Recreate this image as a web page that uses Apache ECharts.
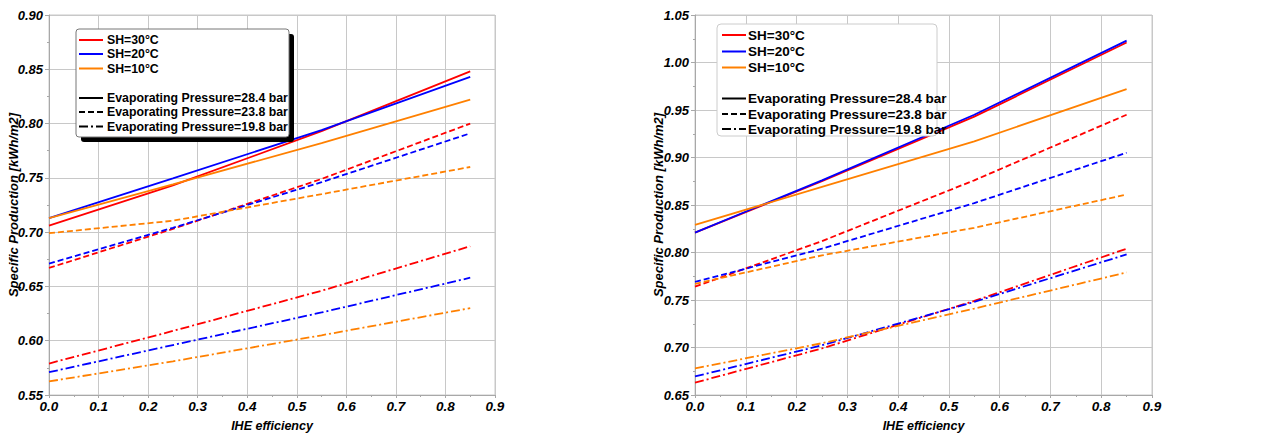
<!DOCTYPE html>
<html>
<head>
<meta charset="utf-8">
<script src="https://cdn.jsdelivr.net/npm/echarts@6/dist/echarts.min.js"></script>
<style>
  html, body { margin: 0; padding: 0; background: #ffffff; }
  #chart { width: 1264px; height: 437px; }
</style>
</head>
<body>
<div id="chart"></div>
<script>
// IHE efficiency sample points (shared by both panels)
const IHE_X = [0, 0.25, 0.55, 0.85];

// Left panel: specific production [kWh/m2]
const A_SH30_P284 = [0.706, 0.743, 0.793, 0.848];
const A_SH20_P284 = [0.713, 0.7495, 0.794, 0.843];
const A_SH10_P284 = [0.713, 0.744, 0.782, 0.822];
const A_SH30_P238 = [0.667, 0.703, 0.749, 0.800];
const A_SH20_P238 = [0.671, 0.704, 0.746, 0.791];
const A_SH10_P238 = [0.699, 0.7105, 0.735, 0.760];
const A_SH30_P198 = [0.579, 0.609, 0.646, 0.687];
const A_SH20_P198 = [0.571, 0.596, 0.626, 0.658];
const A_SH10_P198 = [0.5625, 0.581, 0.605, 0.630];

// Right panel: specific production [kWh/m2]
const B_SH30_P284 = [0.821, 0.875, 0.943, 1.021];
const B_SH20_P284 = [0.821, 0.876, 0.945, 1.023];
const B_SH10_P284 = [0.829, 0.869, 0.917, 0.972];
const B_SH30_P238 = [0.764, 0.812, 0.876, 0.945];
const B_SH20_P238 = [0.769, 0.804, 0.852, 0.905];
const B_SH10_P238 = [0.767, 0.797, 0.826, 0.861];
const B_SH30_P198 = [0.663, 0.699, 0.749, 0.804];
const B_SH20_P198 = [0.6695, 0.7023, 0.748, 0.798];
const B_SH10_P198 = [0.678, 0.7045, 0.741, 0.779];

const SH_LABELS = ['SH=30°C', 'SH=20°C', 'SH=10°C'];
const P_LABELS = ['Evaporating Pressure=28.4 bar', 'Evaporating Pressure=23.8 bar', 'Evaporating Pressure=19.8 bar'];
const X_NAME = 'IHE efficiency';
const Y_NAME = 'Specific Production [kWh/m2]';

const SH_COLORS = ['#ff0000', '#0000ff', '#ff8000'];
const P_DASH = ['solid', [6, 3], [9, 3, 2, 3]];
const FONT = '"Liberation Sans", Arial, sans-serif';

const panels = [
  { rows: [[A_SH30_P284, A_SH20_P284, A_SH10_P284],
           [A_SH30_P238, A_SH20_P238, A_SH10_P238],
           [A_SH30_P198, A_SH20_P198, A_SH10_P198]], yMin: 0.55, yMax: 0.90 },
  { rows: [[B_SH30_P284, B_SH20_P284, B_SH10_P284],
           [B_SH30_P238, B_SH20_P238, B_SH10_P238],
           [B_SH30_P198, B_SH20_P198, B_SH10_P198]], yMin: 0.65, yMax: 1.05 }
];

const gridLine = '#c8c8c8';
const tickColor = '#a8a8a8';

function xAxisFor(i) {
  return {
    type: 'value', gridIndex: i, min: 0, max: 0.9, interval: 0.1,
    name: X_NAME, nameLocation: 'middle', nameGap: 24, nameMoveOverlap: false,
    nameTextStyle: { fontFamily: FONT, fontSize: 12.5, fontWeight: 'bold', fontStyle: 'italic', color: '#000' },
    axisLine: { show: true, lineStyle: { color: tickColor } },
    axisTick: { show: true, length: 3, lineStyle: { color: tickColor } },
    minorTick: { show: true, splitNumber: 2, length: 2, lineStyle: { color: tickColor } },
    splitLine: { show: true, lineStyle: { color: gridLine, width: 1 } },
    axisLabel: { margin: 4, fontFamily: FONT, fontSize: 13.5, fontWeight: 'bold', fontStyle: 'italic', color: '#000',
                 formatter: v => v.toFixed(1) }
  };
}
function yAxisFor(i, p) {
  return {
    type: 'value', gridIndex: i, min: p.yMin, max: p.yMax, interval: 0.05,
    name: Y_NAME, nameLocation: 'middle', nameGap: i === 0 ? 29 : 30.5, nameMoveOverlap: false,
    nameTextStyle: { fontFamily: FONT, fontSize: 13, fontWeight: 'bold', fontStyle: 'italic', color: '#000' },
    axisLine: { show: true, lineStyle: { color: tickColor } },
    axisTick: { show: true, length: 4, lineStyle: { color: tickColor } },
    minorTick: { show: true, splitNumber: 2, length: 2, lineStyle: { color: tickColor } },
    splitLine: { show: true, lineStyle: { color: gridLine, width: 1 } },
    axisLabel: { margin: 6, fontFamily: FONT, fontSize: 13, fontWeight: 'bold', fontStyle: 'italic', color: '#000',
                 formatter: v => v.toFixed(2) }
  };
}

const series = [];
panels.forEach((p, gi) => {
  p.rows.forEach((row, pi) => {
    row.forEach((vals, si) => {
      series.push({
        type: 'line', name: SH_LABELS[si] + ' / ' + P_LABELS[pi],
        xAxisIndex: gi, yAxisIndex: gi,
        data: IHE_X.map((x, k) => [x, vals[k]]),
        symbol: 'none', silent: true, z: 3,
        lineStyle: { color: SH_COLORS[si], width: 1.8, type: P_DASH[pi] }
      });
    });
  });
});

// Legend boxes drawn as graphic elements (colour key + line-style key)
function legendGraphics(cfg) {
  const els = [];
  if (cfg.shadow) {
    els.push({ type: 'rect', shape: { x: cfg.x + 5, y: cfg.y + 5, width: cfg.w, height: cfg.h, r: 3 },
               style: { fill: '#000' }, z: 10 });
  }
  els.push({ type: 'rect', shape: { x: cfg.x, y: cfg.y, width: cfg.w, height: cfg.h, r: cfg.r },
             style: { fill: '#fff', stroke: cfg.stroke, lineWidth: 1 }, z: 11 });
  const items = [];
  SH_LABELS.forEach((t, i) => items.push({ text: t, color: SH_COLORS[i], dash: 'solid' }));
  P_LABELS.forEach((t, i) => items.push({ text: t, color: '#000', dash: P_DASH[i] }));
  items.forEach((it, k) => {
    const yy = cfg.rowsY[k];
    els.push({ type: 'line', shape: { x1: cfg.lx1, y1: yy, x2: cfg.lx2, y2: yy },
               style: { stroke: it.color, lineWidth: 2, lineDash: it.dash === 'solid' ? null : it.dash }, z: 12 });
    els.push({ type: 'text', x: cfg.tx, y: yy,
               style: { text: it.text, fill: '#000', font: 'bold ' + cfg.fs + 'px ' + FONT,
                        textVerticalAlign: 'middle', verticalAlign: 'middle', textAlign: 'left', align: 'left' }, z: 12 });
  });
  return els;
}

const graphics = [].concat(
  legendGraphics({ x: 76, y: 29, w: 213, h: 108, r: 3, shadow: true, stroke: '#777',
                   lx1: 79, lx2: 103, tx: 107, fs: 12.3, rowsY: [40, 54, 68.5, 98, 112, 126.5] }),
  legendGraphics({ x: 717, y: 24, w: 220, h: 112, r: 4, shadow: false, stroke: '#cccccc',
                   lx1: 722, lx2: 746, tx: 748, fs: 13.5, rowsY: [35, 51.5, 67.5, 98.5, 114, 129] })
);

const chart = echarts.init(document.getElementById('chart'), null, { renderer: 'svg' });
chart.setOption({
  animation: false,
  backgroundColor: '#ffffff',
  grid: [
    { left: 49, right: 769, top: 15, bottom: 37, show: true, borderColor: gridLine, borderWidth: 1, containLabel: false },
    { left: 695, right: 112, top: 15, bottom: 37, show: true, borderColor: gridLine, borderWidth: 1, containLabel: false }
  ],
  xAxis: [xAxisFor(0), xAxisFor(1)],
  yAxis: [yAxisFor(0, panels[0]), yAxisFor(1, panels[1])],
  series: series,
  graphic: graphics
});
</script>
</body>
</html>
